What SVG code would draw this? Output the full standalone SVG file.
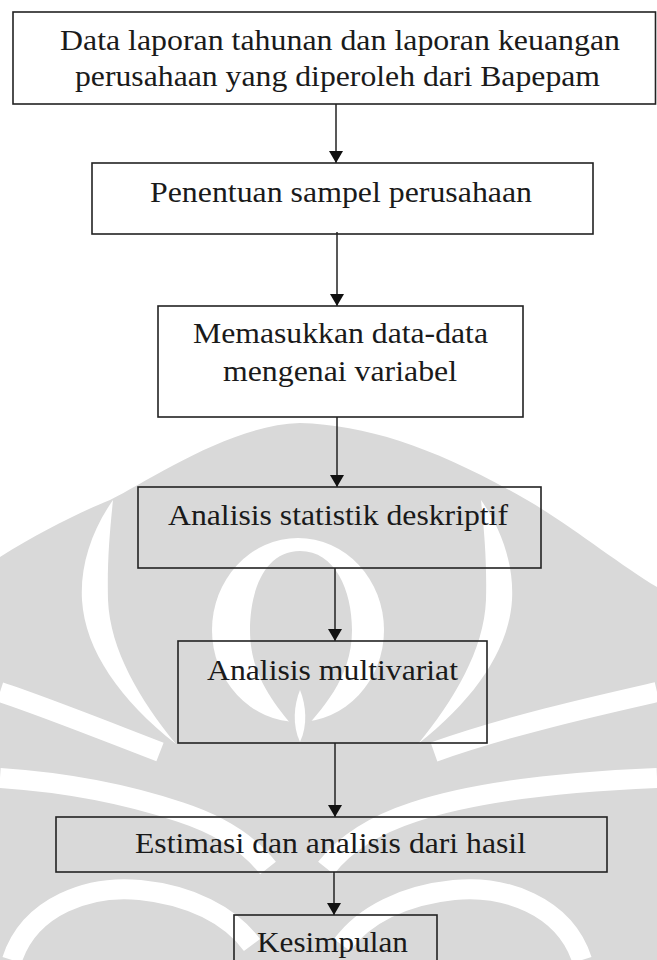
<svg xmlns="http://www.w3.org/2000/svg" width="657" height="960" viewBox="0 0 657 960">
<style>
.box{fill:none;stroke:#222;stroke-width:1.6}
.lbl{font-family:"Liberation Serif","Times New Roman",serif;font-size:29px;fill:#1a1a1a}
.con{stroke:#222;stroke-width:1.5;fill:none}
.wm{fill:#d9d9d9}
.wh{fill:#ffffff}
.ws{fill:none;stroke:#ffffff;stroke-width:20}
</style>
<defs>
<marker id="ah" markerUnits="userSpaceOnUse" markerWidth="12" markerHeight="14" refX="12" refY="7" orient="auto" viewBox="0 0 12 14">
<path d="M0,0 L12,7 L0,14 Z" fill="#111"/>
</marker>
</defs>
<rect width="657" height="960" fill="#fff"/>
<g id="watermark">
<path class="wm" d="M0,557 C40,532 80,512 110,500 C150,480 230,425 300,423 C370,425 440,450 527,500 C570,525 620,565 657,587 L657,960 L0,960 Z"/>
<path class="wh" d="M113,500 C92,530 80,565 82,600 C85,650 120,700 176,744 C140,700 110,650 108,600 C107,560 110,530 113,500 Z"/>
<path class="wh" d="M481,500 C502,530 514,565 512,600 C509,650 474,700 418,744 C454,700 484,650 486,600 C487,560 484,530 481,500 Z"/>
<ellipse class="wh" cx="298" cy="630" rx="86" ry="92"/>
<path class="wm" d="M300,551 C335,551 352,590 352,630 C352,680 320,710 300,735 C280,710 250,680 250,630 C250,590 265,551 300,551 Z"/>
<path class="wh" d="M300,690 C306,705 308,725 300,742 C292,725 294,705 300,690 Z"/>
<path class="ws" d="M0,692 C40,705 90,725 160,752"/>
<path class="ws" d="M0,778 C60,782 120,792 180,812 C220,825 250,845 268,868"/>
<path class="ws" d="M12,960 C30,905 90,885 140,890 C190,895 230,915 252,945"/>
<path class="ws" d="M657,692 C600,705 510,725 434,752"/>
<path class="ws" d="M657,778 C560,782 474,792 414,812 C374,825 344,845 326,868"/>
<path class="ws" d="M582,960 C564,905 504,885 454,890 C404,895 364,915 342,945"/>
</g>
<g id="connectors">
<line class="con" x1="336" y1="104" x2="336" y2="163" marker-end="url(#ah)"/>
<line class="con" x1="337" y1="232" x2="337" y2="306" marker-end="url(#ah)"/>
<line class="con" x1="337" y1="417" x2="337" y2="487" marker-end="url(#ah)"/>
<line class="con" x1="335" y1="568" x2="335" y2="641" marker-end="url(#ah)"/>
<line class="con" x1="335" y1="743" x2="335" y2="817" marker-end="url(#ah)"/>
<line class="con" x1="334" y1="872" x2="334" y2="915" marker-end="url(#ah)"/>
</g>
<g id="n1">
<rect class="box" x="13" y="12" width="642.5" height="92"/>
<text class="lbl" x="60" y="50" textLength="560" lengthAdjust="spacingAndGlyphs">Data laporan tahunan dan laporan keuangan</text>
<text class="lbl" x="75" y="86" textLength="525" lengthAdjust="spacingAndGlyphs">perusahaan yang diperoleh dari Bapepam</text>
</g>
<g id="n2">
<rect class="box" x="92" y="163" width="501" height="71"/>
<text class="lbl" x="150" y="202" textLength="382" lengthAdjust="spacingAndGlyphs">Penentuan sampel perusahaan</text>
</g>
<g id="n3">
<rect class="box" x="158" y="306" width="365" height="111"/>
<text class="lbl" x="193" y="343" textLength="295" lengthAdjust="spacingAndGlyphs">Memasukkan data-data</text>
<text class="lbl" x="223" y="381" textLength="234" lengthAdjust="spacingAndGlyphs">mengenai variabel</text>
</g>
<g id="n4">
<rect class="box" x="138" y="487" width="403" height="81"/>
<text class="lbl" x="168" y="525" textLength="340" lengthAdjust="spacingAndGlyphs">Analisis statistik deskriptif</text>
</g>
<g id="n5">
<rect class="box" x="178" y="641" width="309" height="102"/>
<text class="lbl" x="207" y="680" textLength="251" lengthAdjust="spacingAndGlyphs">Analisis multivariat</text>
</g>
<g id="n6">
<rect class="box" x="56" y="817" width="551" height="55"/>
<text class="lbl" x="135" y="853" textLength="391" lengthAdjust="spacingAndGlyphs">Estimasi dan analisis dari hasil</text>
</g>
<g id="n7">
<rect class="box" x="234" y="915" width="203" height="60"/>
<text class="lbl" x="257" y="952" textLength="151" lengthAdjust="spacingAndGlyphs">Kesimpulan</text>
</g>
</svg>
